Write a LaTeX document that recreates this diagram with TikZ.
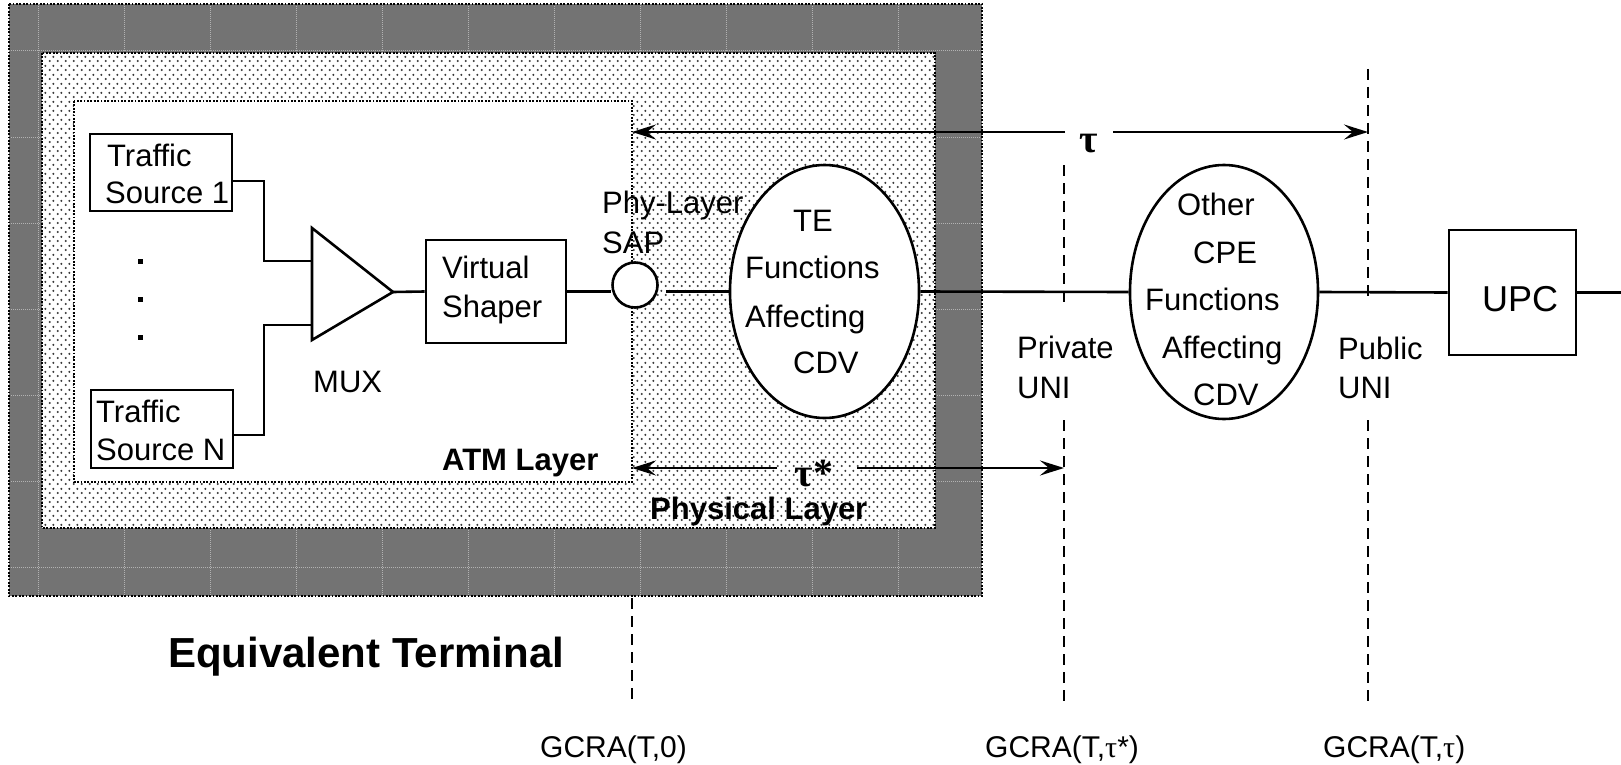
\documentclass[tikz,border=0pt]{standalone}
\usepackage{fontspec}
\setmainfont{Liberation Sans}
\newfontfamily\greekserif{Liberation Serif}
\usetikzlibrary{arrows.meta,patterns.meta,shapes.geometric}

\definecolor{shadefill}{gray}{0.45}
\definecolor{dotink}{gray}{0.22}

% sparse staggered dots for the physical layer band
\tikzdeclarepattern{
  name=phydots,
  type=uncolored,
  bounding box={(0pt,0pt) and (8pt,9pt)},
  tile size={(8pt,9pt)},
  code={
    \fill (2pt,2.25pt) circle [radius=1.3pt];
    \fill (6pt,6.75pt) circle [radius=1.3pt];
  }
}

\begin{document}
\begin{tikzpicture}[x=1pt,y=-1pt,
  wire/.style={line width=2.6pt},
  box/.style={draw,line width=2.6pt,inner sep=0pt},
  lbl/.style={anchor=base west,inner sep=0pt,font=\fontsize{31}{37}\selectfont},
  blbl/.style={anchor=base west,inner sep=0pt,font=\bfseries\fontsize{31}{37}\selectfont},
  gcra/.style={anchor=base west,inner sep=0pt,font=\fontsize{30}{36}\selectfont},
  greek/.style={anchor=base,inner sep=0pt,font=\greekserif\bfseries\fontsize{40}{40}\selectfont},
  border/.style={line width=1.8pt,dash pattern=on 1.8pt off 1.6pt},
  seam/.style={white,opacity=0.45,line width=1pt,dash pattern=on 1pt off 1pt},
  refline/.style={line width=2.6pt,dash pattern=on 11pt off 7pt},
  dimline/.style={line width=2.6pt,-{Stealth[length=24pt,width=15pt,inset=9pt]}}
]
\useasboundingbox (0,0) rectangle (1621,765);

% ---- equivalent terminal: dark outer band ----
\fill[shadefill] (9,4) rectangle (982,596);
\begin{scope}
  \clip (9,4) rectangle (982,596);
  \foreach \sx in {38,124,...,898} \draw[seam] (\sx,4) -- (\sx,596);
  \foreach \sy in {51,137,...,567} \draw[seam] (9,\sy) -- (982,\sy);
\end{scope}

% ---- physical layer band ----
\fill[white] (42,53) rectangle (935,528);
\fill[pattern=phydots,pattern color=dotink] (42,53) rectangle (935,528);

% ---- ATM layer area ----
\fill[white] (74,101) rectangle (632,482);

\draw[border] (9,4) rectangle (982,596);
\draw[border] (42,53) rectangle (935,528);
\draw[border] (74,101) rectangle (632,482);

% ---- traffic sources ----
\node[box,minimum width=142,minimum height=77] (ts1) at (161,172.5) {};
\node[box,minimum width=142,minimum height=78] (tsn) at (162,429) {};
\node[lbl] (ts1a) at (107,166) {Traffic};
\node[lbl] (ts1b) at (105,203) {Source 1};
\node[lbl] (tsna) at (96,422) {Traffic};
\node[lbl] (tsnb) at (96,460) {Source N};
\foreach \dy in {261,299,337} \fill (137.5,\dy-2.5) rectangle +(5,5);

% ---- multiplexer ----
\coordinate (muxa) at (312,228);
\coordinate (muxtip) at (393,292);
\coordinate (muxb) at (312,340);
\draw[wire,line join=miter] (muxa) -- (muxtip) -- (muxb) -- cycle;
\node[lbl] (muxl) at (313,392) {MUX};

\coordinate (j1) at (264,181);
\coordinate (j2) at (264,261);
\coordinate (j3) at (264,435);
\coordinate (j4) at (264,325);
\draw[wire] (ts1.east |- j1) -- (j1) -- (j2) -- (muxa |- j2);
\draw[wire] (tsn.east |- j3) -- (j3) -- (j4) -- (muxa |- j4);

% ---- virtual shaper and SAP ----
\node[box,minimum width=140,minimum height=103] (vs) at (496,291.5) {};
\node[lbl] (vsa) at (442,278) {Virtual};
\node[lbl] (vsb) at (442,317) {Shaper};
\node[circle,draw,line width=2.6pt,fill=white,minimum size=45,inner sep=0pt] (sap) at (635,285) {};
\node[lbl] (sapa) at (602,213) {Phy-Layer};
\node[lbl] (sapb) at (602,253) {SAP};

% ---- TE functions ----
\node[ellipse,draw,line width=2.6pt,fill=white,minimum width=189,minimum height=253,inner sep=0pt] (te) at (824.5,291.5) {};
\node[lbl] (te1) at (793,231) {TE};
\node[lbl] (te2) at (745,278) {Functions};
\node[lbl] (te3) at (745,327) {Affecting};
\node[lbl] (te4) at (793,373) {CDV};

% ---- other CPE functions ----
\node[ellipse,draw,line width=2.6pt,fill=white,minimum width=188,minimum height=254,inner sep=0pt] (cpe) at (1224,292) {};
\node[lbl] (cpe1) at (1177,215) {Other};
\node[lbl] (cpe2) at (1193,263) {CPE};
\node[lbl] (cpe3) at (1145,310) {Functions};
\node[lbl] (cpe4) at (1162,358) {Affecting};
\node[lbl] (cpe5) at (1193,405) {CDV};

% ---- UPC ----
\node[box,minimum width=127,minimum height=125] (upc) at (1512.5,292.5) {};
\node[anchor=base,inner sep=0pt,font=\fontsize{36}{40}\selectfont] (upcl) at (1520,311) {UPC};
\coordinate (lineend) at (1621,292.5);

% ---- cell stream ----
\draw[wire] (muxtip) -- (vs.west);
\draw[wire] (vs.east) -- (vs.east -| sap.west);
\draw[wire,shorten <=7pt] (vs.east -| sap.east) -- (te.west);
\draw[wire] (te.east) -- (cpe.west);
\draw[wire] (cpe.east) -- (upc.west);
\draw[wire] (upc.east) -- (lineend);

% ---- reference points ----
\coordinate (p0b) at (632,598);  \coordinate (p0e) at (632,703);
\coordinate (p1a) at (1064,165); \coordinate (p1b) at (1064,303);
\coordinate (p1c) at (1064,420); \coordinate (p1e) at (1064,708);
\coordinate (p2a) at (1368,69);  \coordinate (p2b) at (1368,303);
\coordinate (p2c) at (1368,420); \coordinate (p2e) at (1368,708);
\draw[refline] (p0b) -- (p0e);
\draw[refline] (p1a) -- (p1b);
\draw[refline] (p1c) -- (p1e);
\draw[refline] (p2a) -- (p2b);
\draw[refline] (p2c) -- (p2e);
\node[lbl] (priva) at (1017,358) {Private};
\node[lbl] (privb) at (1017,398) {UNI};
\node[lbl] (puba) at (1338,359) {Public};
\node[lbl] (pubb) at (1338,398) {UNI};

% ---- tolerances ----
\coordinate (tauL) at (632,132);
\coordinate (tauR) at (1368,132);
\coordinate (tauGa) at (1065,132);
\coordinate (tauGb) at (1113,132);
\draw[dimline] (tauGa) -- (tauL);
\draw[dimline] (tauGb) -- (tauR);
\node[greek] (tau) at (1089,153) {τ};

\coordinate (tsL) at (632,468);
\coordinate (tsR) at (1064,468);
\coordinate (tsGa) at (777,468);
\coordinate (tsGb) at (857,468);
\draw[dimline] (tsGa) -- (tsL);
\draw[dimline] (tsGb) -- (tsR);
\node[greek] (taustar) at (814,486) {τ*};

% ---- layer names ----
\node[blbl] (atml) at (442,470) {ATM Layer};
\node[blbl] (phyl) at (650,519) {Physical Layer};
\node[anchor=base west,inner sep=0pt,font=\bfseries\fontsize{42}{50}\selectfont] (eqt) at (168,667) {Equivalent Terminal};

% ---- conformance definitions ----
\node[gcra] (g0) at (540,757) {GCRA(T,0)};
\node[gcra] (g1) at (985,757) {GCRA(T,{\greekserif τ}*)};
\node[gcra] (g2) at (1323,757) {GCRA(T,{\greekserif τ})};
\end{tikzpicture}
\end{document}
